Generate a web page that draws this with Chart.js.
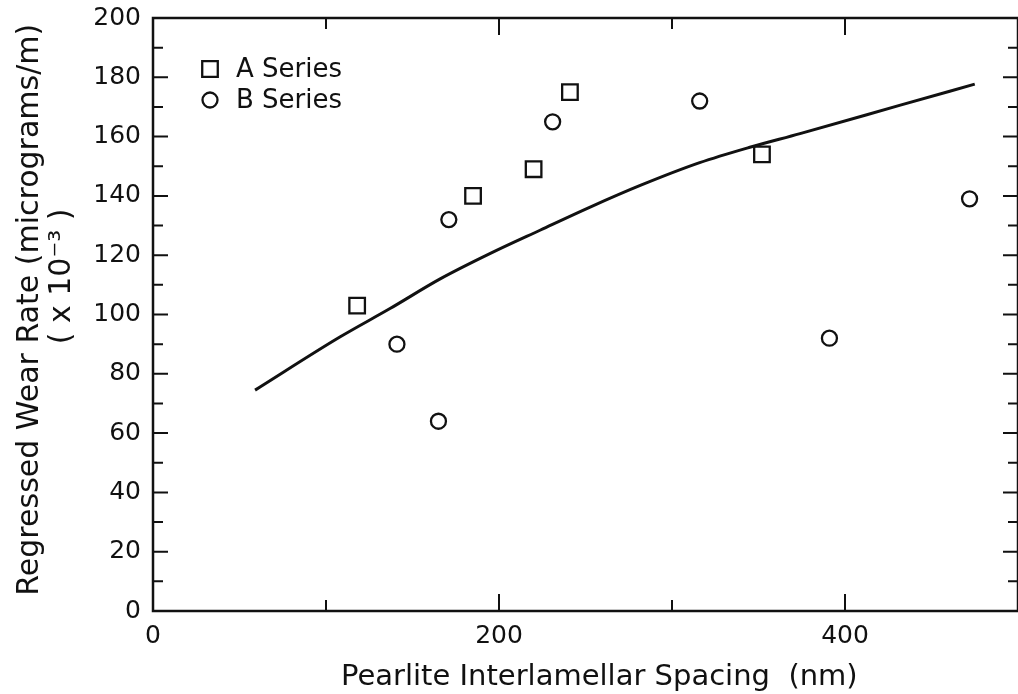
<!DOCTYPE html>
<html>
<head>
<meta charset="utf-8">
<script src="https://cdn.jsdelivr.net/npm/chart.js@4.4.1/dist/chart.umd.min.js"></script>
<style>
  html, body { margin: 0; padding: 0; background: #fff; }
</style>
</head>
<body>
<canvas id="wear" width="1018" height="694"></canvas>
<script>
// values
const seriesAX = [118, 185, 220, 241, 352];
const seriesAY = [103, 140, 149, 175, 154];
const seriesBX = [141, 165, 171, 231, 316, 391, 472];
const seriesBY = [90, 64, 132, 165, 172, 92, 139];
const fitX = [59, 108, 137, 166, 195, 224, 253, 282, 316, 345, 374, 432, 475];
const fitY = [74.5, 92.4, 102, 112, 120.6, 128.5, 136.3, 143.6, 151.2, 156.4, 161, 170.6, 177.7];
const xTicks = [0, 200, 400];
const yTicks = [0, 20, 40, 60, 80, 100, 120, 140, 160, 180, 200];

const INK = "#111";
const FONT = "'DejaVu Sans', sans-serif";
const NB = "\u00A0"; // leading blanks nudge the off-centre axis titles

const toPoints = (xs, ys) => xs.map((x, i) => ({ x: x, y: ys[i] }));

// keep the plot box fixed: no extra room for overhanging tick labels
const noPad = (s) => {
  s.paddingTop = 0; s.paddingBottom = 0;
  s.paddingLeft = 0; s.paddingRight = 0;
};

// frame on all four sides with inward ticks, and the legend inside the plot
const frameTicks = {
  id: "frameTicks",
  afterDraw(chart) {
    const { ctx, chartArea: a, scales: { x, y } } = chart;
    ctx.save();
    ctx.strokeStyle = INK;
    ctx.lineWidth = 2.5;
    ctx.strokeRect(a.left, a.top, a.right - a.left, a.bottom - a.top);

    ctx.lineWidth = 2;
    ctx.beginPath();
    for (let v = 100; v < 500; v += 100) {
      const px = x.getPixelForValue(v);
      const len = xTicks.includes(v) ? 17 : 11;
      ctx.moveTo(px, a.bottom); ctx.lineTo(px, a.bottom - len);
      ctx.moveTo(px, a.top); ctx.lineTo(px, a.top + len);
    }
    for (let v = 10; v < 200; v += 10) {
      const py = y.getPixelForValue(v);
      const len = yTicks.includes(v) ? 15 : 10;
      ctx.moveTo(a.left, py); ctx.lineTo(a.left + len, py);
      ctx.moveTo(a.right, py); ctx.lineTo(a.right - len, py);
    }
    ctx.stroke();

    // legend
    ctx.font = "26px " + FONT;
    ctx.fillStyle = INK;
    ctx.textBaseline = "middle";
    [0, 1].forEach((i, row) => {
      const ds = chart.data.datasets[i];
      const lx = a.left + 57;
      const ly = a.top + 51 + row * 31;
      ctx.save();
      ctx.strokeStyle = INK;
      ctx.fillStyle = "rgba(0,0,0,0)";
      ctx.lineWidth = 2.3;
      Chart.helpers.drawPoint(ctx, {
        pointStyle: ds.pointStyle, radius: ds.pointRadius, borderWidth: 2.3, rotation: 0
      }, lx, ly);
      ctx.restore();
      ctx.fillText(ds.label, lx + 26, ly + 1);
    });
    ctx.restore();
  }
};

new Chart(document.getElementById("wear"), {
  type: "scatter",
  data: {
    datasets: [
      {
        label: "A Series",
        data: toPoints(seriesAX, seriesAY),
        pointStyle: "rect",
        pointRadius: 11,
        borderColor: INK,
        backgroundColor: "rgba(0,0,0,0)",
        borderWidth: 2.3
      },
      {
        label: "B Series",
        data: toPoints(seriesBX, seriesBY),
        pointStyle: "circle",
        pointRadius: 7.5,
        borderColor: INK,
        backgroundColor: "rgba(0,0,0,0)",
        borderWidth: 2.3
      },
      {
        label: "Regression",
        data: toPoints(fitX, fitY),
        showLine: true,
        pointRadius: 0,
        borderColor: INK,
        borderWidth: 3,
        cubicInterpolationMode: "monotone"
      }
    ]
  },
  options: {
    responsive: false,
    animation: false,
    layout: { autoPadding: false, padding: { top: 18, right: 0, left: 0, bottom: 0 } },
    plugins: {
      legend: { display: false },
      tooltip: { enabled: false }
    },
    scales: {
      x: {
        type: "linear",
        min: 0,
        max: 500,
        afterFit: (s) => { s.height = 83; noPad(s); },
        afterBuildTicks: (s) => { s.ticks = xTicks.map(v => ({ value: v })); },
        grid: { display: false, drawTicks: false },
        border: { display: false },
        ticks: { color: INK, padding: 10, font: { family: FONT, size: 25 }, maxRotation: 0 },
        title: {
          display: true,
          text: NB.repeat(3) + "Pearlite Interlamellar Spacing  (nm)",
          color: INK,
          font: { family: FONT, size: 29, lineHeight: 1.1 },
          padding: { top: 0, bottom: 1 }
        }
      },
      y: {
        type: "linear",
        min: 0,
        max: 200,
        afterFit: (s) => { s.width = 153; noPad(s); },
        afterBuildTicks: (s) => { s.ticks = yTicks.map(v => ({ value: v })); },
        grid: { display: false, drawTicks: false },
        border: { display: false },
        ticks: { color: INK, padding: 12, font: { family: FONT, size: 25 } },
        title: {
          display: true,
          text: [
            NB + "Regressed Wear Rate (micrograms/m)",
            NB.repeat(8) + "( x 10\u207B\u00B3 )"
          ],
          color: INK,
          font: { family: FONT, size: 30, lineHeight: 1.07 },
          padding: { top: 14, bottom: 0 }
        }
      }
    }
  },
  plugins: [frameTicks]
});
</script>
</body>
</html>
